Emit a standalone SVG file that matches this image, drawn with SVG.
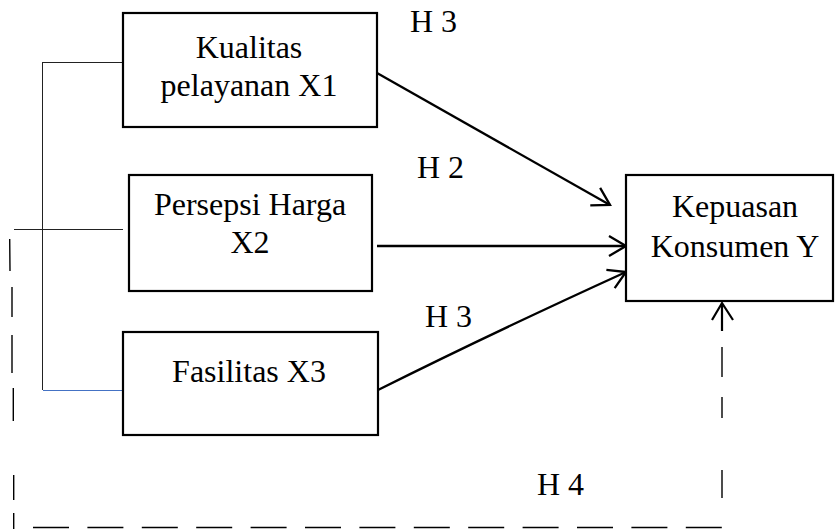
<svg xmlns="http://www.w3.org/2000/svg" width="835" height="529" viewBox="0 0 835 529">
<defs>
<style>
.box{fill:#fff;stroke:#000;stroke-width:2.2}
.t{font-family:"Liberation Serif","Times New Roman",serif;font-size:32px;fill:#000}
.c{text-anchor:middle}
.arr{fill:none;stroke:#000;stroke-width:2.3}
.thin{fill:none;stroke:#222;stroke-width:1}
.dash{fill:none;stroke:#000;stroke-width:1.4}
</style>
<marker id="head" markerUnits="userSpaceOnUse" viewBox="-20 -12 22 24" refX="0" refY="0" markerWidth="22" markerHeight="24" orient="auto" overflow="visible">
<path d="M-17 -10 L0 0 L-17 10" fill="none" stroke="#000" stroke-width="2.3"/>
</marker>
</defs>
<rect width="835" height="529" fill="#fff"/>
<g id="connectors">
<path class="thin" d="M42.5 62.5 H123 M42.5 62 V390 M14 229.5 H123"/>
<path d="M43 390.5 H123" fill="none" stroke="#4472C4" stroke-width="1"/>
<path class="arr" d="M377 73 L610 205" marker-end="url(#head)"/>
<path class="arr" d="M377 246 L626 246" marker-end="url(#head)"/>
<path class="arr" d="M378 390 Q490 334 626 272" marker-end="url(#head)"/>
<path class="dash" d="M9.7 239 L10 271 M12 287 V317 M12 335 V373 M13.3 388 V421 M13.7 475 V500 M13.7 513 V529"/>
<path class="dash" d="M33 527.5 H722" stroke-dasharray="36 18.4"/>
<path class="dash" d="M722 347 V377 M722 397 V418 M722 470 V498"/>
<path d="M722 331 V303 M712 320 L722 303 L733 320" fill="none" stroke="#000" stroke-width="2.2"/>
</g>
<g id="x1">
<rect class="box" x="123" y="13" width="254" height="114"/>
<text class="t c" x="249" y="58">Kualitas</text>
<text class="t c" x="249" y="96">pelayanan X1</text>
</g>
<g id="x2">
<rect class="box" x="129" y="175" width="243" height="116"/>
<text class="t c" x="250" y="215">Persepsi Harga</text>
<text class="t c" x="250" y="253">X2</text>
</g>
<g id="x3">
<rect class="box" x="123" y="332" width="255" height="103"/>
<text class="t c" x="249" y="382">Fasilitas X3</text>
</g>
<g id="y">
<rect class="box" x="626" y="175" width="207" height="126"/>
<text class="t c" x="735" y="217">Kepuasan</text>
<text class="t c" x="735" y="257">Konsumen Y</text>
</g>
<g id="labels">
<text class="t" x="410" y="32">H 3</text>
<text class="t" x="417" y="178">H 2</text>
<text class="t" x="425" y="327">H 3</text>
<text class="t" x="537" y="495">H 4</text>
</g>
</svg>
